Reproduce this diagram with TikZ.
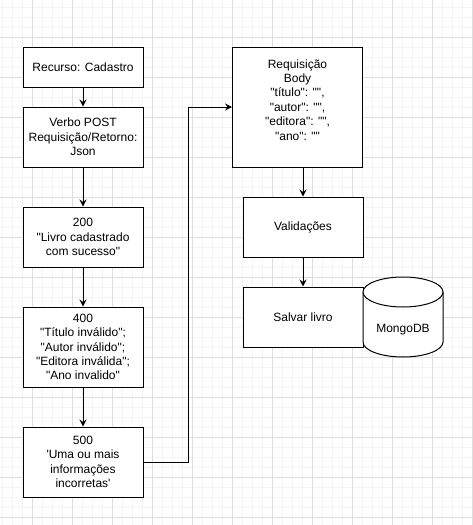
\documentclass[tikz,border=0pt]{standalone}
\usepackage{fontspec}
\newfontfamily\drawfont{Liberation Sans}
\usetikzlibrary{arrows.meta}

\tikzset{
  caixa/.style={draw, line width=1pt, fill=white, minimum width=120pt, minimum height=60pt,
    inner sep=0pt, align=center, font=\drawfont\fontsize{12}{14.4}\selectfont},
  rotulo/.style={inner sep=0pt, font=\drawfont\fontsize{12}{14.4}\selectfont},
  seta/.style={line width=1pt, -{Stealth[length=7pt,width=7pt,inset=2.5pt]}},
  gradefina/.style={gray!9, line width=1pt},
  gradegrossa/.style={gray!26, line width=1pt},
}

\begin{document}
\begin{tikzpicture}[x=1pt,y=-1pt]
\useasboundingbox[fill=white] (0,0) rectangle (472,525);

% grade de fundo
\foreach \x in {2,12,...,472} \draw[gradefina] (\x,0) -- (\x,525);
\foreach \y in {7,17,...,525} \draw[gradefina] (0,\y) -- (472,\y);
\foreach \x in {32,72,...,472} \draw[gradegrossa] (\x,0) -- (\x,525);
\foreach \y in {37,77,...,525} \draw[gradegrossa] (0,\y) -- (472,\y);

% coluna da esquerda
\node[caixa, minimum height=40pt] (recurso) at (83,67) {Recurso: Cadastro};
\node[caixa] (verbo) at (83,137) {Verbo POST\\Requisição/Retorno:\\Json};
\node[caixa] (sucesso) at (83,237) {200\\"Livro cadastrado\\com sucesso"};
\node[caixa, minimum height=80pt] (invalido) at (83,347) {400\\"Título inválido";\\"Autor inválido";\\"Editora inválida";\\"Ano invalido"};
\node[caixa, minimum height=70pt] (incorreto) at (83,462) {500\\\textquotesingle Uma ou mais\\informações\\incorretas\textquotesingle};

\draw[seta] (recurso) -- (verbo);
\draw[seta] (verbo) -- (sucesso);
\draw[seta] (sucesso) -- (invalido);
\draw[seta] (invalido) -- (incorreto);

% coluna da direita
\node[caixa, minimum width=130pt, minimum height=120pt] (body) at (297.5,107) {Requisição\\Body\\"título": "",\\"autor": "",\\"editora": "",\\"ano": ""\\~};
\node[caixa] (validacoes) at (303,227) {Validações};
\node[caixa] (salvar) at (303,317) {Salvar livro};

\draw[line width=1pt, fill=white] (363,292) -- (363,342)
  arc[start angle=180, end angle=360, x radius=40pt, y radius=15pt] -- (443,292);
\draw[line width=1pt, fill=white] (403,292) ellipse [x radius=40pt, y radius=15pt];
\node[rotulo] (mongo) at (403,330) {MongoDB};

\draw[seta] (incorreto.east) -- ++(44.5,0) |- (body.west);
\draw[seta] (validacoes.north |- body.south) -- (validacoes.north);
\draw[seta] (validacoes) -- (salvar);
\end{tikzpicture}
\end{document}
